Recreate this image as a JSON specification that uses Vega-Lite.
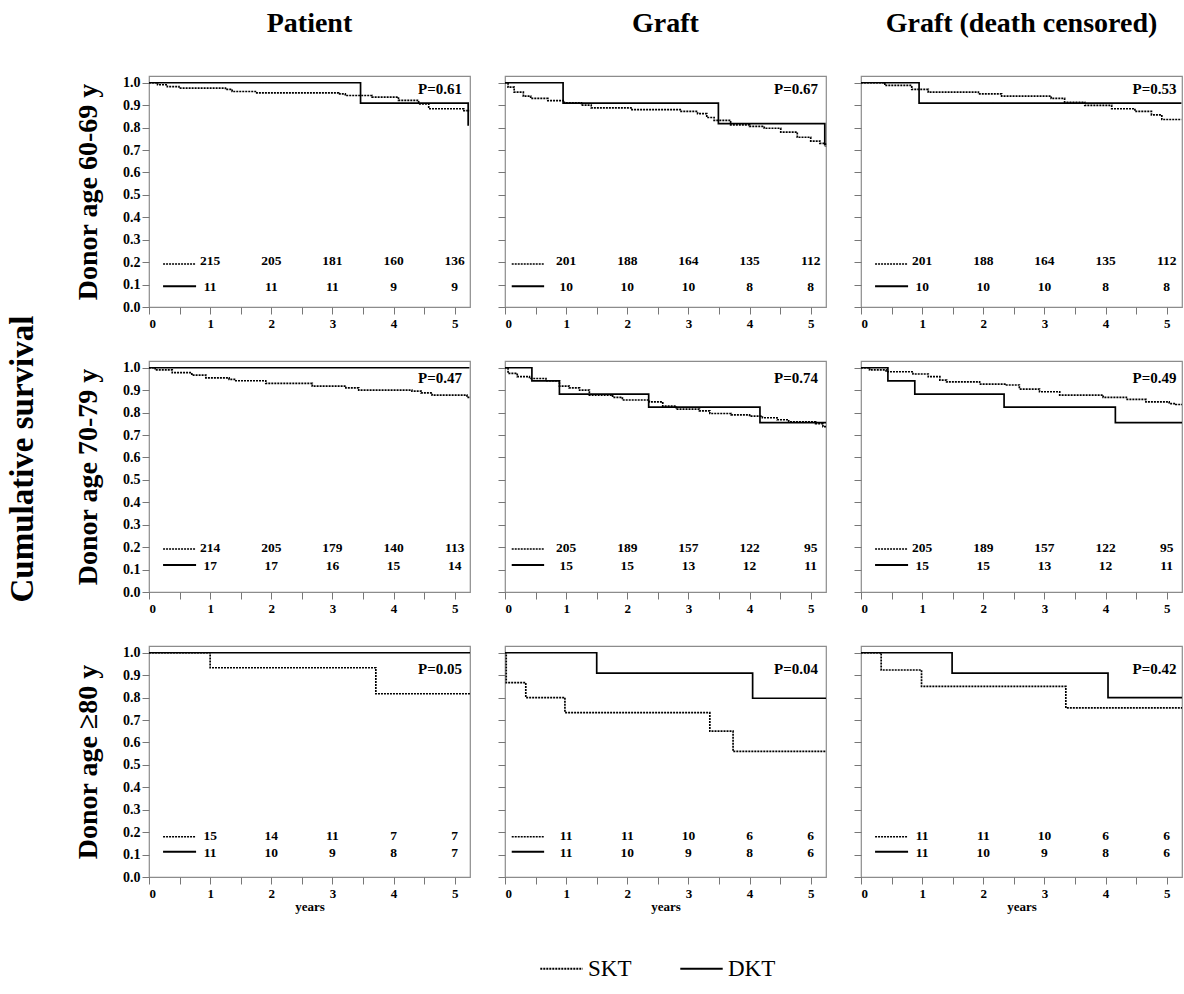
{
"$schema":"https://vega.github.io/schema/vega-lite/v6.json",
"background":"white",
"padding":{"left":6,"top":9,"right":0,"bottom":8},
"title":{"text":"Cumulative survival","orient":"left","fontSize":33,"fontWeight":"bold","color":"black","anchor":"middle","offset":34,"dx":36},
"datasets":{
"km":[
{"p":"11","g":"SKT","t":0,"s":1},{"p":"11","g":"SKT","t":0.14,"s":0.991},{"p":"11","g":"SKT","t":0.3,"s":0.983},{"p":"11","g":"SKT","t":0.49,"s":0.976},{"p":"11","g":"SKT","t":1.25,"s":0.97},{"p":"11","g":"SKT","t":1.36,"s":0.961},{"p":"11","g":"SKT","t":1.74,"s":0.955},{"p":"11","g":"SKT","t":3.1,"s":0.95},{"p":"11","g":"SKT","t":3.21,"s":0.943},{"p":"11","g":"SKT","t":3.65,"s":0.936},{"p":"11","g":"SKT","t":4.08,"s":0.921},{"p":"11","g":"SKT","t":4.41,"s":0.906},{"p":"11","g":"SKT","t":4.575,"s":0.884},{"p":"11","g":"SKT","t":5.15,"s":0.876},{"p":"11","g":"SKT","t":5.24,"s":0.876},
{"p":"11","g":"DKT","t":0,"s":1},{"p":"11","g":"DKT","t":3.46,"s":0.909},{"p":"11","g":"DKT","t":5.22,"s":0.808},
{"p":"12","g":"SKT","t":0,"s":1},{"p":"12","g":"SKT","t":0.05,"s":0.98},{"p":"12","g":"SKT","t":0.15,"s":0.958},{"p":"12","g":"SKT","t":0.3,"s":0.94},{"p":"12","g":"SKT","t":0.42,"s":0.93},{"p":"12","g":"SKT","t":0.7,"s":0.92},{"p":"12","g":"SKT","t":0.97,"s":0.91},{"p":"12","g":"SKT","t":1.25,"s":0.9},{"p":"12","g":"SKT","t":1.41,"s":0.888},{"p":"12","g":"SKT","t":2.06,"s":0.88},{"p":"12","g":"SKT","t":2.88,"s":0.872},{"p":"12","g":"SKT","t":3.15,"s":0.862},{"p":"12","g":"SKT","t":3.3,"s":0.845},{"p":"12","g":"SKT","t":3.42,"s":0.832},{"p":"12","g":"SKT","t":3.69,"s":0.812},{"p":"12","g":"SKT","t":4.0,"s":0.805},{"p":"12","g":"SKT","t":4.24,"s":0.797},{"p":"12","g":"SKT","t":4.51,"s":0.78},{"p":"12","g":"SKT","t":4.78,"s":0.757},{"p":"12","g":"SKT","t":5.0,"s":0.74},{"p":"12","g":"SKT","t":5.15,"s":0.73},{"p":"12","g":"SKT","t":5.24,"s":0.715},
{"p":"12","g":"DKT","t":0,"s":1},{"p":"12","g":"DKT","t":0.95,"s":0.909},{"p":"12","g":"DKT","t":3.49,"s":0.818},{"p":"12","g":"DKT","t":5.23,"s":0.72},
{"p":"13","g":"SKT","t":0,"s":1},{"p":"13","g":"SKT","t":0.39,"s":0.988},{"p":"13","g":"SKT","t":0.83,"s":0.97},{"p":"13","g":"SKT","t":1.1,"s":0.958},{"p":"13","g":"SKT","t":1.92,"s":0.95},{"p":"13","g":"SKT","t":2.3,"s":0.94},{"p":"13","g":"SKT","t":3.11,"s":0.93},{"p":"13","g":"SKT","t":3.33,"s":0.913},{"p":"13","g":"SKT","t":3.66,"s":0.899},{"p":"13","g":"SKT","t":4.1,"s":0.884},{"p":"13","g":"SKT","t":4.48,"s":0.872},{"p":"13","g":"SKT","t":4.75,"s":0.857},{"p":"13","g":"SKT","t":4.92,"s":0.836},{"p":"13","g":"SKT","t":5.24,"s":0.836},
{"p":"13","g":"DKT","t":0,"s":1},{"p":"13","g":"DKT","t":0.95,"s":0.909},{"p":"13","g":"DKT","t":5.24,"s":0.909},
{"p":"21","g":"SKT","t":0,"s":1},{"p":"21","g":"SKT","t":0.1,"s":0.99},{"p":"21","g":"SKT","t":0.38,"s":0.978},{"p":"21","g":"SKT","t":0.7,"s":0.967},{"p":"21","g":"SKT","t":0.93,"s":0.955},{"p":"21","g":"SKT","t":1.31,"s":0.948},{"p":"21","g":"SKT","t":1.42,"s":0.942},{"p":"21","g":"SKT","t":1.91,"s":0.93},{"p":"21","g":"SKT","t":2.67,"s":0.918},{"p":"21","g":"SKT","t":3.22,"s":0.91},{"p":"21","g":"SKT","t":3.43,"s":0.9},{"p":"21","g":"SKT","t":4.3,"s":0.896},{"p":"21","g":"SKT","t":4.45,"s":0.888},{"p":"21","g":"SKT","t":4.63,"s":0.878},{"p":"21","g":"SKT","t":5.2,"s":0.868},{"p":"21","g":"SKT","t":5.24,"s":0.868},
{"p":"21","g":"DKT","t":0,"s":1},{"p":"21","g":"DKT","t":5.24,"s":1},
{"p":"22","g":"SKT","t":0,"s":1},{"p":"22","g":"SKT","t":0.05,"s":0.975},{"p":"22","g":"SKT","t":0.2,"s":0.96},{"p":"22","g":"SKT","t":0.4,"s":0.952},{"p":"22","g":"SKT","t":0.67,"s":0.942},{"p":"22","g":"SKT","t":0.89,"s":0.918},{"p":"22","g":"SKT","t":1.05,"s":0.91},{"p":"22","g":"SKT","t":1.22,"s":0.9},{"p":"22","g":"SKT","t":1.38,"s":0.878},{"p":"22","g":"SKT","t":1.76,"s":0.868},{"p":"22","g":"SKT","t":1.92,"s":0.856},{"p":"22","g":"SKT","t":2.36,"s":0.848},{"p":"22","g":"SKT","t":2.58,"s":0.829},{"p":"22","g":"SKT","t":2.8,"s":0.815},{"p":"22","g":"SKT","t":3.18,"s":0.808},{"p":"22","g":"SKT","t":3.35,"s":0.796},{"p":"22","g":"SKT","t":3.7,"s":0.79},{"p":"22","g":"SKT","t":4.0,"s":0.784},{"p":"22","g":"SKT","t":4.21,"s":0.777},{"p":"22","g":"SKT","t":4.45,"s":0.768},{"p":"22","g":"SKT","t":4.64,"s":0.759},{"p":"22","g":"SKT","t":5.08,"s":0.751},{"p":"22","g":"SKT","t":5.2,"s":0.737},{"p":"22","g":"SKT","t":5.25,"s":0.737},
{"p":"22","g":"DKT","t":0,"s":1},{"p":"22","g":"DKT","t":0.44,"s":0.941},{"p":"22","g":"DKT","t":0.89,"s":0.882},{"p":"22","g":"DKT","t":2.35,"s":0.824},{"p":"22","g":"DKT","t":4.17,"s":0.755},{"p":"22","g":"DKT","t":5.25,"s":0.755},
{"p":"23","g":"SKT","t":0,"s":1},{"p":"23","g":"SKT","t":0.14,"s":0.99},{"p":"23","g":"SKT","t":0.41,"s":0.982},{"p":"23","g":"SKT","t":0.85,"s":0.972},{"p":"23","g":"SKT","t":1.1,"s":0.96},{"p":"23","g":"SKT","t":1.29,"s":0.945},{"p":"23","g":"SKT","t":1.4,"s":0.937},{"p":"23","g":"SKT","t":1.94,"s":0.927},{"p":"23","g":"SKT","t":2.38,"s":0.923},{"p":"23","g":"SKT","t":2.59,"s":0.905},{"p":"23","g":"SKT","t":2.92,"s":0.893},{"p":"23","g":"SKT","t":3.25,"s":0.878},{"p":"23","g":"SKT","t":3.96,"s":0.868},{"p":"23","g":"SKT","t":4.34,"s":0.859},{"p":"23","g":"SKT","t":4.66,"s":0.848},{"p":"23","g":"SKT","t":5.04,"s":0.84},{"p":"23","g":"SKT","t":5.15,"s":0.836},{"p":"23","g":"SKT","t":5.25,"s":0.836},
{"p":"23","g":"DKT","t":0,"s":1},{"p":"23","g":"DKT","t":0.44,"s":0.941},{"p":"23","g":"DKT","t":0.88,"s":0.882},{"p":"23","g":"DKT","t":2.34,"s":0.824},{"p":"23","g":"DKT","t":4.16,"s":0.755},{"p":"23","g":"DKT","t":5.25,"s":0.755},
{"p":"31","g":"SKT","t":0,"s":1},{"p":"31","g":"SKT","t":1.0,"s":0.933},{"p":"31","g":"SKT","t":3.71,"s":0.817},{"p":"31","g":"SKT","t":5.25,"s":0.817},
{"p":"31","g":"DKT","t":0,"s":1},{"p":"31","g":"DKT","t":5.25,"s":1},
{"p":"32","g":"SKT","t":0,"s":1},{"p":"32","g":"SKT","t":0.02,"s":0.867},{"p":"32","g":"SKT","t":0.34,"s":0.8},{"p":"32","g":"SKT","t":0.98,"s":0.733},{"p":"32","g":"SKT","t":3.35,"s":0.65},{"p":"32","g":"SKT","t":3.73,"s":0.56},{"p":"32","g":"SKT","t":5.25,"s":0.56},
{"p":"32","g":"DKT","t":0,"s":1},{"p":"32","g":"DKT","t":1.5,"s":0.909},{"p":"32","g":"DKT","t":4.05,"s":0.797},{"p":"32","g":"DKT","t":5.25,"s":0.797},
{"p":"33","g":"SKT","t":0,"s":1},{"p":"33","g":"SKT","t":0.33,"s":0.923},{"p":"33","g":"SKT","t":0.99,"s":0.85},{"p":"33","g":"SKT","t":3.35,"s":0.754},{"p":"33","g":"SKT","t":5.25,"s":0.754},
{"p":"33","g":"DKT","t":0,"s":1},{"p":"33","g":"DKT","t":1.49,"s":0.909},{"p":"33","g":"DKT","t":4.04,"s":0.8},{"p":"33","g":"DKT","t":5.25,"s":0.8}
],
"risk":[
{"p":"11","g":"SKT","t":1,"n":215},{"p":"11","g":"SKT","t":2,"n":205},{"p":"11","g":"SKT","t":3,"n":181},{"p":"11","g":"SKT","t":4,"n":160},{"p":"11","g":"SKT","t":5,"n":136},
{"p":"11","g":"DKT","t":1,"n":11},{"p":"11","g":"DKT","t":2,"n":11},{"p":"11","g":"DKT","t":3,"n":11},{"p":"11","g":"DKT","t":4,"n":9},{"p":"11","g":"DKT","t":5,"n":9},
{"p":"12","g":"SKT","t":1,"n":201},{"p":"12","g":"SKT","t":2,"n":188},{"p":"12","g":"SKT","t":3,"n":164},{"p":"12","g":"SKT","t":4,"n":135},{"p":"12","g":"SKT","t":5,"n":112},
{"p":"12","g":"DKT","t":1,"n":10},{"p":"12","g":"DKT","t":2,"n":10},{"p":"12","g":"DKT","t":3,"n":10},{"p":"12","g":"DKT","t":4,"n":8},{"p":"12","g":"DKT","t":5,"n":8},
{"p":"13","g":"SKT","t":1,"n":201},{"p":"13","g":"SKT","t":2,"n":188},{"p":"13","g":"SKT","t":3,"n":164},{"p":"13","g":"SKT","t":4,"n":135},{"p":"13","g":"SKT","t":5,"n":112},
{"p":"13","g":"DKT","t":1,"n":10},{"p":"13","g":"DKT","t":2,"n":10},{"p":"13","g":"DKT","t":3,"n":10},{"p":"13","g":"DKT","t":4,"n":8},{"p":"13","g":"DKT","t":5,"n":8},
{"p":"21","g":"SKT","t":1,"n":214},{"p":"21","g":"SKT","t":2,"n":205},{"p":"21","g":"SKT","t":3,"n":179},{"p":"21","g":"SKT","t":4,"n":140},{"p":"21","g":"SKT","t":5,"n":113},
{"p":"21","g":"DKT","t":1,"n":17},{"p":"21","g":"DKT","t":2,"n":17},{"p":"21","g":"DKT","t":3,"n":16},{"p":"21","g":"DKT","t":4,"n":15},{"p":"21","g":"DKT","t":5,"n":14},
{"p":"22","g":"SKT","t":1,"n":205},{"p":"22","g":"SKT","t":2,"n":189},{"p":"22","g":"SKT","t":3,"n":157},{"p":"22","g":"SKT","t":4,"n":122},{"p":"22","g":"SKT","t":5,"n":95},
{"p":"22","g":"DKT","t":1,"n":15},{"p":"22","g":"DKT","t":2,"n":15},{"p":"22","g":"DKT","t":3,"n":13},{"p":"22","g":"DKT","t":4,"n":12},{"p":"22","g":"DKT","t":5,"n":11},
{"p":"23","g":"SKT","t":1,"n":205},{"p":"23","g":"SKT","t":2,"n":189},{"p":"23","g":"SKT","t":3,"n":157},{"p":"23","g":"SKT","t":4,"n":122},{"p":"23","g":"SKT","t":5,"n":95},
{"p":"23","g":"DKT","t":1,"n":15},{"p":"23","g":"DKT","t":2,"n":15},{"p":"23","g":"DKT","t":3,"n":13},{"p":"23","g":"DKT","t":4,"n":12},{"p":"23","g":"DKT","t":5,"n":11},
{"p":"31","g":"SKT","t":1,"n":15},{"p":"31","g":"SKT","t":2,"n":14},{"p":"31","g":"SKT","t":3,"n":11},{"p":"31","g":"SKT","t":4,"n":7},{"p":"31","g":"SKT","t":5,"n":7},
{"p":"31","g":"DKT","t":1,"n":11},{"p":"31","g":"DKT","t":2,"n":10},{"p":"31","g":"DKT","t":3,"n":9},{"p":"31","g":"DKT","t":4,"n":8},{"p":"31","g":"DKT","t":5,"n":7},
{"p":"32","g":"SKT","t":1,"n":11},{"p":"32","g":"SKT","t":2,"n":11},{"p":"32","g":"SKT","t":3,"n":10},{"p":"32","g":"SKT","t":4,"n":6},{"p":"32","g":"SKT","t":5,"n":6},
{"p":"32","g":"DKT","t":1,"n":11},{"p":"32","g":"DKT","t":2,"n":10},{"p":"32","g":"DKT","t":3,"n":9},{"p":"32","g":"DKT","t":4,"n":8},{"p":"32","g":"DKT","t":5,"n":6},
{"p":"33","g":"SKT","t":1,"n":11},{"p":"33","g":"SKT","t":2,"n":11},{"p":"33","g":"SKT","t":3,"n":10},{"p":"33","g":"SKT","t":4,"n":6},{"p":"33","g":"SKT","t":5,"n":6},
{"p":"33","g":"DKT","t":1,"n":11},{"p":"33","g":"DKT","t":2,"n":10},{"p":"33","g":"DKT","t":3,"n":9},{"p":"33","g":"DKT","t":4,"n":8},{"p":"33","g":"DKT","t":5,"n":6}
],
"pv":[
{"p":"11","label":"P=0.61"},{"p":"12","label":"P=0.67"},{"p":"13","label":"P=0.53"},
{"p":"21","label":"P=0.47"},{"p":"22","label":"P=0.74"},{"p":"23","label":"P=0.49"},
{"p":"31","label":"P=0.05"},{"p":"32","label":"P=0.04"},{"p":"33","label":"P=0.42"}
]
},
"columns":3,
"spacing":{"row":54,"column":35},
"bounds":"flush",
"concat":[
{"width":321,"height":231,"title":{"text":"Patient"},
"layer":[
{"data":{"name":"km"},"transform":[{"filter":"datum.p=='11'"}],"mark":{"type":"line","interpolate":"step-after","color":"black","strokeWidth":1.7},
"encoding":{"x":{"field":"t","type":"quantitative","scale":{"domain":[0,5.25],"nice":false,"zero":false},"axis":{"title":null,"tickCount":11,"labelExpr":"datum.value % 1 ? '' : format(datum.value, 'd')"}},
"y":{"field":"s","type":"quantitative","scale":{"domain":[0,1.03],"nice":false},"axis":{"title":"Donor age 60-69 y","format":".1f","tickCount":11}},
"strokeDash":{"field":"g","type":"nominal","scale":{"domain":["SKT","DKT"],"range":[[2,1],[1,0]]},"legend":{"title":null}}}},
{"data":{"values":[{}]},"mark":{"type":"rule","strokeDash":[2,1],"color":"black","strokeWidth":1.5},"encoding":{"x":{"datum":0.23},"x2":{"datum":0.77},"y":{"datum":0.192}}},
{"data":{"values":[{}]},"mark":{"type":"rule","color":"black","strokeWidth":2},"encoding":{"x":{"datum":0.23},"x2":{"datum":0.77},"y":{"datum":0.092}}},
{"data":{"name":"risk"},"transform":[{"filter":"datum.p=='11' && datum.g=='SKT'"}],"mark":{"type":"text"},"encoding":{"x":{"field":"t","type":"quantitative"},"y":{"datum":0.204},"text":{"field":"n"}}},
{"data":{"name":"risk"},"transform":[{"filter":"datum.p=='11' && datum.g=='DKT'"}],"mark":{"type":"text"},"encoding":{"x":{"field":"t","type":"quantitative"},"y":{"datum":0.088},"text":{"field":"n"}}},
{"data":{"name":"pv"},"transform":[{"filter":"datum.p=='11'"}],"mark":{"type":"text","align":"right","fontSize":15},"encoding":{"x":{"datum":5.12},"y":{"datum":0.97},"text":{"field":"label"}}}
]},
{"width":321,"height":231,"title":{"text":"Graft"},
"layer":[
{"data":{"name":"km"},"transform":[{"filter":"datum.p=='12'"}],"mark":{"type":"line","interpolate":"step-after","color":"black","strokeWidth":1.7},
"encoding":{"x":{"field":"t","type":"quantitative","scale":{"domain":[0,5.25],"nice":false,"zero":false},"axis":{"title":null,"tickCount":11,"labelExpr":"datum.value % 1 ? '' : format(datum.value, 'd')"}},
"y":{"field":"s","type":"quantitative","scale":{"domain":[0,1.03],"nice":false},"axis":{"title":null,"labels":false,"tickCount":11}},
"strokeDash":{"field":"g","type":"nominal","scale":{"domain":["SKT","DKT"],"range":[[2,1],[1,0]]},"legend":{"title":null}}}},
{"data":{"values":[{}]},"mark":{"type":"rule","strokeDash":[2,1],"color":"black","strokeWidth":1.5},"encoding":{"x":{"datum":0.11},"x2":{"datum":0.64},"y":{"datum":0.192}}},
{"data":{"values":[{}]},"mark":{"type":"rule","color":"black","strokeWidth":2},"encoding":{"x":{"datum":0.11},"x2":{"datum":0.64},"y":{"datum":0.092}}},
{"data":{"name":"risk"},"transform":[{"filter":"datum.p=='12' && datum.g=='SKT'"}],"mark":{"type":"text"},"encoding":{"x":{"field":"t","type":"quantitative"},"y":{"datum":0.204},"text":{"field":"n"}}},
{"data":{"name":"risk"},"transform":[{"filter":"datum.p=='12' && datum.g=='DKT'"}],"mark":{"type":"text"},"encoding":{"x":{"field":"t","type":"quantitative"},"y":{"datum":0.088},"text":{"field":"n"}}},
{"data":{"name":"pv"},"transform":[{"filter":"datum.p=='12'"}],"mark":{"type":"text","align":"right","fontSize":15},"encoding":{"x":{"datum":5.12},"y":{"datum":0.97},"text":{"field":"label"}}}
]},
{"width":321,"height":231,"title":{"text":"Graft (death censored)"},
"layer":[
{"data":{"name":"km"},"transform":[{"filter":"datum.p=='13'"}],"mark":{"type":"line","interpolate":"step-after","color":"black","strokeWidth":1.7},
"encoding":{"x":{"field":"t","type":"quantitative","scale":{"domain":[0,5.25],"nice":false,"zero":false},"axis":{"title":null,"tickCount":11,"labelExpr":"datum.value % 1 ? '' : format(datum.value, 'd')"}},
"y":{"field":"s","type":"quantitative","scale":{"domain":[0,1.03],"nice":false},"axis":{"title":null,"labels":false,"tickCount":11}},
"strokeDash":{"field":"g","type":"nominal","scale":{"domain":["SKT","DKT"],"range":[[2,1],[1,0]]},"legend":{"title":null}}}},
{"data":{"values":[{}]},"mark":{"type":"rule","strokeDash":[2,1],"color":"black","strokeWidth":1.5},"encoding":{"x":{"datum":0.23},"x2":{"datum":0.77},"y":{"datum":0.192}}},
{"data":{"values":[{}]},"mark":{"type":"rule","color":"black","strokeWidth":2},"encoding":{"x":{"datum":0.23},"x2":{"datum":0.77},"y":{"datum":0.092}}},
{"data":{"name":"risk"},"transform":[{"filter":"datum.p=='13' && datum.g=='SKT'"}],"mark":{"type":"text"},"encoding":{"x":{"field":"t","type":"quantitative"},"y":{"datum":0.204},"text":{"field":"n"}}},
{"data":{"name":"risk"},"transform":[{"filter":"datum.p=='13' && datum.g=='DKT'"}],"mark":{"type":"text"},"encoding":{"x":{"field":"t","type":"quantitative"},"y":{"datum":0.088},"text":{"field":"n"}}},
{"data":{"name":"pv"},"transform":[{"filter":"datum.p=='13'"}],"mark":{"type":"text","align":"right","fontSize":15},"encoding":{"x":{"datum":5.16},"y":{"datum":0.97},"text":{"field":"label"}}}
]},
{"width":321,"height":231,
"layer":[
{"data":{"name":"km"},"transform":[{"filter":"datum.p=='21'"}],"mark":{"type":"line","interpolate":"step-after","color":"black","strokeWidth":1.7},
"encoding":{"x":{"field":"t","type":"quantitative","scale":{"domain":[0,5.25],"nice":false,"zero":false},"axis":{"title":null,"tickCount":11,"labelExpr":"datum.value % 1 ? '' : format(datum.value, 'd')"}},
"y":{"field":"s","type":"quantitative","scale":{"domain":[0,1.03],"nice":false},"axis":{"title":"Donor age 70-79 y","format":".1f","tickCount":11}},
"strokeDash":{"field":"g","type":"nominal","scale":{"domain":["SKT","DKT"],"range":[[2,1],[1,0]]},"legend":{"title":null}}}},
{"data":{"values":[{}]},"mark":{"type":"rule","strokeDash":[2,1],"color":"black","strokeWidth":1.5},"encoding":{"x":{"datum":0.23},"x2":{"datum":0.77},"y":{"datum":0.192}}},
{"data":{"values":[{}]},"mark":{"type":"rule","color":"black","strokeWidth":2},"encoding":{"x":{"datum":0.23},"x2":{"datum":0.77},"y":{"datum":0.12}}},
{"data":{"name":"risk"},"transform":[{"filter":"datum.p=='21' && datum.g=='SKT'"}],"mark":{"type":"text"},"encoding":{"x":{"field":"t","type":"quantitative"},"y":{"datum":0.198},"text":{"field":"n"}}},
{"data":{"name":"risk"},"transform":[{"filter":"datum.p=='21' && datum.g=='DKT'"}],"mark":{"type":"text"},"encoding":{"x":{"field":"t","type":"quantitative"},"y":{"datum":0.118},"text":{"field":"n"}}},
{"data":{"name":"pv"},"transform":[{"filter":"datum.p=='21'"}],"mark":{"type":"text","align":"right","fontSize":15},"encoding":{"x":{"datum":5.12},"y":{"datum":0.955},"text":{"field":"label"}}}
]},
{"width":321,"height":231,
"layer":[
{"data":{"name":"km"},"transform":[{"filter":"datum.p=='22'"}],"mark":{"type":"line","interpolate":"step-after","color":"black","strokeWidth":1.7},
"encoding":{"x":{"field":"t","type":"quantitative","scale":{"domain":[0,5.25],"nice":false,"zero":false},"axis":{"title":null,"tickCount":11,"labelExpr":"datum.value % 1 ? '' : format(datum.value, 'd')"}},
"y":{"field":"s","type":"quantitative","scale":{"domain":[0,1.03],"nice":false},"axis":{"title":null,"labels":false,"tickCount":11}},
"strokeDash":{"field":"g","type":"nominal","scale":{"domain":["SKT","DKT"],"range":[[2,1],[1,0]]},"legend":{"title":null}}}},
{"data":{"values":[{}]},"mark":{"type":"rule","strokeDash":[2,1],"color":"black","strokeWidth":1.5},"encoding":{"x":{"datum":0.11},"x2":{"datum":0.64},"y":{"datum":0.192}}},
{"data":{"values":[{}]},"mark":{"type":"rule","color":"black","strokeWidth":2},"encoding":{"x":{"datum":0.11},"x2":{"datum":0.64},"y":{"datum":0.12}}},
{"data":{"name":"risk"},"transform":[{"filter":"datum.p=='22' && datum.g=='SKT'"}],"mark":{"type":"text"},"encoding":{"x":{"field":"t","type":"quantitative"},"y":{"datum":0.198},"text":{"field":"n"}}},
{"data":{"name":"risk"},"transform":[{"filter":"datum.p=='22' && datum.g=='DKT'"}],"mark":{"type":"text"},"encoding":{"x":{"field":"t","type":"quantitative"},"y":{"datum":0.118},"text":{"field":"n"}}},
{"data":{"name":"pv"},"transform":[{"filter":"datum.p=='22'"}],"mark":{"type":"text","align":"right","fontSize":15},"encoding":{"x":{"datum":5.12},"y":{"datum":0.955},"text":{"field":"label"}}}
]},
{"width":321,"height":231,
"layer":[
{"data":{"name":"km"},"transform":[{"filter":"datum.p=='23'"}],"mark":{"type":"line","interpolate":"step-after","color":"black","strokeWidth":1.7},
"encoding":{"x":{"field":"t","type":"quantitative","scale":{"domain":[0,5.25],"nice":false,"zero":false},"axis":{"title":null,"tickCount":11,"labelExpr":"datum.value % 1 ? '' : format(datum.value, 'd')"}},
"y":{"field":"s","type":"quantitative","scale":{"domain":[0,1.03],"nice":false},"axis":{"title":null,"labels":false,"tickCount":11}},
"strokeDash":{"field":"g","type":"nominal","scale":{"domain":["SKT","DKT"],"range":[[2,1],[1,0]]},"legend":{"title":null}}}},
{"data":{"values":[{}]},"mark":{"type":"rule","strokeDash":[2,1],"color":"black","strokeWidth":1.5},"encoding":{"x":{"datum":0.23},"x2":{"datum":0.77},"y":{"datum":0.192}}},
{"data":{"values":[{}]},"mark":{"type":"rule","color":"black","strokeWidth":2},"encoding":{"x":{"datum":0.23},"x2":{"datum":0.77},"y":{"datum":0.12}}},
{"data":{"name":"risk"},"transform":[{"filter":"datum.p=='23' && datum.g=='SKT'"}],"mark":{"type":"text"},"encoding":{"x":{"field":"t","type":"quantitative"},"y":{"datum":0.198},"text":{"field":"n"}}},
{"data":{"name":"risk"},"transform":[{"filter":"datum.p=='23' && datum.g=='DKT'"}],"mark":{"type":"text"},"encoding":{"x":{"field":"t","type":"quantitative"},"y":{"datum":0.118},"text":{"field":"n"}}},
{"data":{"name":"pv"},"transform":[{"filter":"datum.p=='23'"}],"mark":{"type":"text","align":"right","fontSize":15},"encoding":{"x":{"datum":5.16},"y":{"datum":0.955},"text":{"field":"label"}}}
]},
{"width":321,"height":231,
"layer":[
{"data":{"name":"km"},"transform":[{"filter":"datum.p=='31'"}],"mark":{"type":"line","interpolate":"step-after","color":"black","strokeWidth":1.7},
"encoding":{"x":{"field":"t","type":"quantitative","scale":{"domain":[0,5.25],"nice":false,"zero":false},"axis":{"title":"years","tickCount":11,"labelExpr":"datum.value % 1 ? '' : format(datum.value, 'd')"}},
"y":{"field":"s","type":"quantitative","scale":{"domain":[0,1.03],"nice":false},"axis":{"title":"Donor age ≥80 y","format":".1f","tickCount":11}},
"strokeDash":{"field":"g","type":"nominal","scale":{"domain":["SKT","DKT"],"range":[[2,1],[1,0]]},"legend":{"title":null,"orient":"none","legendX":390,"legendY":870}}}},
{"data":{"values":[{}]},"mark":{"type":"rule","strokeDash":[2,1],"color":"black","strokeWidth":1.5},"encoding":{"x":{"datum":0.23},"x2":{"datum":0.77},"y":{"datum":0.18}}},
{"data":{"values":[{}]},"mark":{"type":"rule","color":"black","strokeWidth":2},"encoding":{"x":{"datum":0.23},"x2":{"datum":0.77},"y":{"datum":0.113}}},
{"data":{"name":"risk"},"transform":[{"filter":"datum.p=='31' && datum.g=='SKT'"}],"mark":{"type":"text"},"encoding":{"x":{"field":"t","type":"quantitative"},"y":{"datum":0.185},"text":{"field":"n"}}},
{"data":{"name":"risk"},"transform":[{"filter":"datum.p=='31' && datum.g=='DKT'"}],"mark":{"type":"text"},"encoding":{"x":{"field":"t","type":"quantitative"},"y":{"datum":0.106},"text":{"field":"n"}}},
{"data":{"name":"pv"},"transform":[{"filter":"datum.p=='31'"}],"mark":{"type":"text","align":"right","fontSize":15},"encoding":{"x":{"datum":5.12},"y":{"datum":0.927},"text":{"field":"label"}}}
]},
{"width":321,"height":231,
"layer":[
{"data":{"name":"km"},"transform":[{"filter":"datum.p=='32'"}],"mark":{"type":"line","interpolate":"step-after","color":"black","strokeWidth":1.7},
"encoding":{"x":{"field":"t","type":"quantitative","scale":{"domain":[0,5.25],"nice":false,"zero":false},"axis":{"title":"years","tickCount":11,"labelExpr":"datum.value % 1 ? '' : format(datum.value, 'd')"}},
"y":{"field":"s","type":"quantitative","scale":{"domain":[0,1.03],"nice":false},"axis":{"title":null,"labels":false,"tickCount":11}},
"strokeDash":{"field":"g","type":"nominal","scale":{"domain":["SKT","DKT"],"range":[[2,1],[1,0]]},"legend":{"title":null,"orient":"none","legendX":390,"legendY":870}}}},
{"data":{"values":[{}]},"mark":{"type":"rule","strokeDash":[2,1],"color":"black","strokeWidth":1.5},"encoding":{"x":{"datum":0.11},"x2":{"datum":0.64},"y":{"datum":0.18}}},
{"data":{"values":[{}]},"mark":{"type":"rule","color":"black","strokeWidth":2},"encoding":{"x":{"datum":0.11},"x2":{"datum":0.64},"y":{"datum":0.113}}},
{"data":{"name":"risk"},"transform":[{"filter":"datum.p=='32' && datum.g=='SKT'"}],"mark":{"type":"text"},"encoding":{"x":{"field":"t","type":"quantitative"},"y":{"datum":0.185},"text":{"field":"n"}}},
{"data":{"name":"risk"},"transform":[{"filter":"datum.p=='32' && datum.g=='DKT'"}],"mark":{"type":"text"},"encoding":{"x":{"field":"t","type":"quantitative"},"y":{"datum":0.106},"text":{"field":"n"}}},
{"data":{"name":"pv"},"transform":[{"filter":"datum.p=='32'"}],"mark":{"type":"text","align":"right","fontSize":15},"encoding":{"x":{"datum":5.12},"y":{"datum":0.927},"text":{"field":"label"}}}
]},
{"width":321,"height":231,
"layer":[
{"data":{"name":"km"},"transform":[{"filter":"datum.p=='33'"}],"mark":{"type":"line","interpolate":"step-after","color":"black","strokeWidth":1.7},
"encoding":{"x":{"field":"t","type":"quantitative","scale":{"domain":[0,5.25],"nice":false,"zero":false},"axis":{"title":"years","tickCount":11,"labelExpr":"datum.value % 1 ? '' : format(datum.value, 'd')"}},
"y":{"field":"s","type":"quantitative","scale":{"domain":[0,1.03],"nice":false},"axis":{"title":null,"labels":false,"tickCount":11}},
"strokeDash":{"field":"g","type":"nominal","scale":{"domain":["SKT","DKT"],"range":[[2,1],[1,0]]},"legend":{"title":null,"orient":"none","legendX":390,"legendY":870}}}},
{"data":{"values":[{}]},"mark":{"type":"rule","strokeDash":[2,1],"color":"black","strokeWidth":1.5},"encoding":{"x":{"datum":0.23},"x2":{"datum":0.77},"y":{"datum":0.18}}},
{"data":{"values":[{}]},"mark":{"type":"rule","color":"black","strokeWidth":2},"encoding":{"x":{"datum":0.23},"x2":{"datum":0.77},"y":{"datum":0.113}}},
{"data":{"name":"risk"},"transform":[{"filter":"datum.p=='33' && datum.g=='SKT'"}],"mark":{"type":"text"},"encoding":{"x":{"field":"t","type":"quantitative"},"y":{"datum":0.185},"text":{"field":"n"}}},
{"data":{"name":"risk"},"transform":[{"filter":"datum.p=='33' && datum.g=='DKT'"}],"mark":{"type":"text"},"encoding":{"x":{"field":"t","type":"quantitative"},"y":{"datum":0.106},"text":{"field":"n"}}},
{"data":{"name":"pv"},"transform":[{"filter":"datum.p=='33'"}],"mark":{"type":"text","align":"right","fontSize":15},"encoding":{"x":{"datum":5.16},"y":{"datum":0.927},"text":{"field":"label"}}}
]}
],
"config":{
"font":"Liberation Serif, Times New Roman, DejaVu Serif, serif",
"view":{"stroke":"#8c8c8c","strokeWidth":1.2},
"axis":{"grid":false,"domain":false,"tickColor":"#777","tickSize":7,"labelFont":"Liberation Serif, Times New Roman, DejaVu Serif, serif","labelFontWeight":"bold","labelFontSize":14,"labelColor":"black","labelPadding":2,"titleFont":"Liberation Serif, Times New Roman, DejaVu Serif, serif","titleColor":"black","titleFontWeight":"bold"},
"axisY":{"titleFontSize":28,"titlePadding":20},
"axisX":{"titleFontSize":13,"titlePadding":0,"labelFontSize":13,"labelPadding":3},
"title":{"font":"Liberation Serif, Times New Roman, DejaVu Serif, serif","fontSize":28,"fontWeight":"bold","color":"black","offset":38},
"text":{"font":"Liberation Serif, Times New Roman, DejaVu Serif, serif","fontWeight":"bold","fontSize":13.5,"baseline":"middle","color":"black"},
"legend":{"direction":"horizontal","labelFont":"Liberation Serif, Times New Roman, DejaVu Serif, serif","labelFontSize":23,"labelColor":"black","symbolType":"stroke","symbolSize":1800,"symbolStrokeWidth":1.8,"symbolStrokeColor":"black","columnPadding":44,"labelOffset":4}
}
}
